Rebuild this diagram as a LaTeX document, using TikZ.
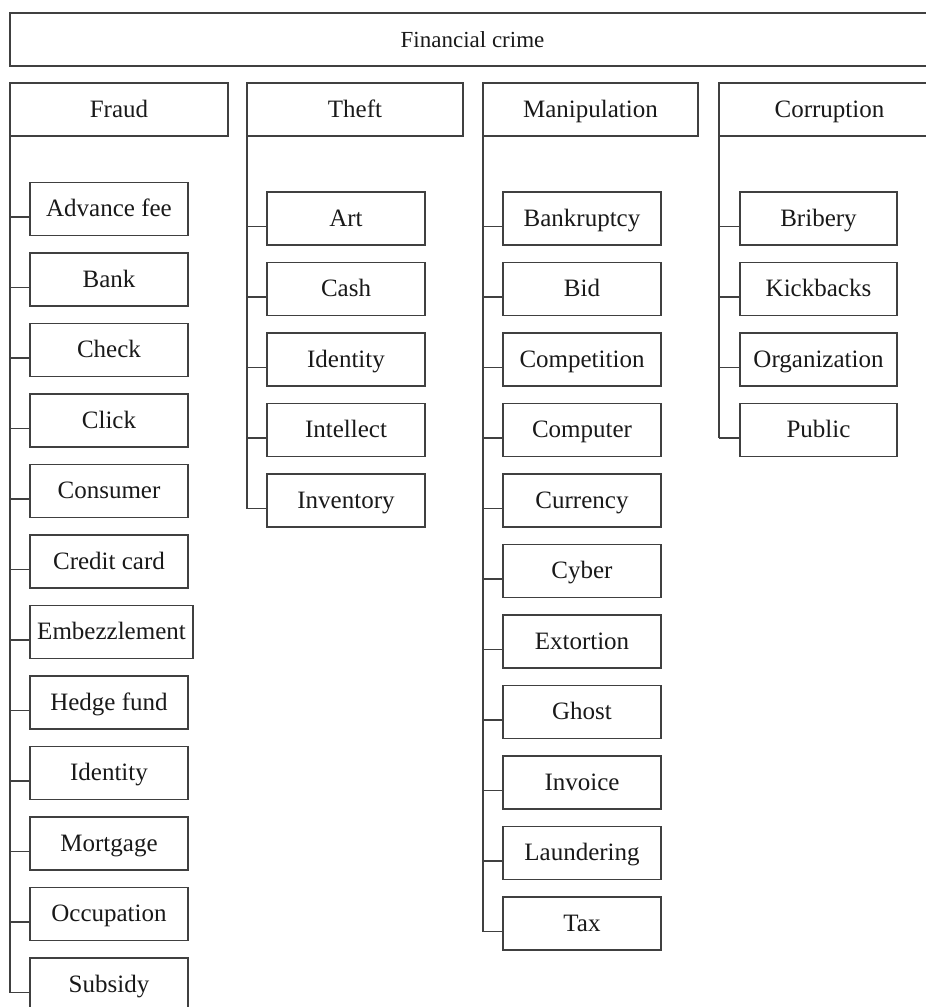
\documentclass[tikz,border=0pt]{standalone}
\usepackage{fontspec}
\setmainfont{Liberation Serif}
\usetikzlibrary{positioning}

\tikzset{
  box/.style={draw=black!75, line width=1.5pt, minimum height=53pt, inner sep=0pt,
    outer sep=0pt, text=black!90, text height=18pt, text depth=3pt,
    font=\fontsize{25}{30}\selectfont},
  catbox/.style={box, minimum width=218pt},
  itembox/.style={box, minimum width=158pt},
  tree/.style={draw=black!75, line width=1.5pt},
}

\begin{document}
\begin{tikzpicture}[x=1pt,y=-1pt]
    \useasboundingbox (0,0) rectangle (926,1007);
    \clip (0,0) rectangle (926,1007);
      % top
      \node[box,minimum width=925pt,font=\fontsize{23}{28}\selectfont] (FC) at (472.5,39.5) {Financial crime};
      \node[catbox] (Fraud) at (119,109.5) {Fraud};
      \node[catbox,minimum width=216pt] (Theft) at (355,109.5) {Theft};
      \node[catbox,minimum width=215pt] (Manip) at (590.5,109.5) {Manipulation};
      \node[catbox,minimum width=221pt] (Corr) at (829.5,109.5) {Corruption};
      % Fraud
      \node[itembox] (F1) at (109,209) {Advance fee};
      \node[itembox,below=17.5pt of F1] (F2) {Bank};
      \node[itembox,below=17.5pt of F2] (F3) {Check};
      \node[itembox,below=17.5pt of F3] (F4) {Click};
      \node[itembox,below=17.5pt of F4] (F5) {Consumer};
      \node[itembox,below=17.5pt of F5] (F6) {Credit card};
      \node[itembox,minimum width=163pt,below=17.5pt of F6,xshift=2.5pt] (F7) {Embezzlement};
      \node[itembox,below=17.5pt of F7,xshift=-2.5pt] (F8) {Hedge fund};
      \node[itembox,below=17.5pt of F8] (F9) {Identity};
      \node[itembox,below=17.5pt of F9] (F10) {Mortgage};
      \node[itembox,below=17.5pt of F10] (F11) {Occupation};
      \node[itembox,below=17.5pt of F11] (F12) {Subsidy};
      % Theft
      \node[itembox] (T1) at (346,218.5) {Art};
      \node[itembox,below=17.5pt of T1] (T2) {Cash};
      \node[itembox,below=17.5pt of T2] (T3) {Identity};
      \node[itembox,below=17.5pt of T3] (T4) {Intellect};
      \node[itembox,below=17.5pt of T4] (T5) {Inventory};
      % Manipulation
      \node[itembox] (M1) at (582,218.5) {Bankruptcy};
      \node[itembox,below=17.5pt of M1] (M2) {Bid};
      \node[itembox,below=17.5pt of M2] (M3) {Competition};
      \node[itembox,below=17.5pt of M3] (M4) {Computer};
      \node[itembox,below=17.5pt of M4] (M5) {Currency};
      \node[itembox,below=17.5pt of M5] (M6) {Cyber};
      \node[itembox,below=17.5pt of M6] (M7) {Extortion};
      \node[itembox,below=17.5pt of M7] (M8) {Ghost};
      \node[itembox,below=17.5pt of M8] (M9) {Invoice};
      \node[itembox,below=17.5pt of M9] (M10) {Laundering};
      \node[itembox,below=17.5pt of M10] (M11) {Tax};
      % Corruption
      \node[itembox,minimum width=157pt] (C1) at (818.5,218.5) {Bribery};
      \node[itembox,minimum width=157pt,below=17.5pt of C1] (C2) {Kickbacks};
      \node[itembox,minimum width=157pt,below=17.5pt of C2] (C3) {Organization};
      \node[itembox,minimum width=157pt,below=17.5pt of C3] (C4) {Public};
      % Lines
      \foreach \cat/\it/\n in {Fraud/F/12,Theft/T/5,Manip/M/11,Corr/C/4}{
        \foreach \i in {1,...,\n}{
          \coordinate (\it t\i) at ([yshift=-8pt]\it\i.west);
          \draw[tree] (\it t\i -| \cat.west) -- (\it t\i);
        }
        \draw[tree] (\cat.west) -- (\it t\n -| \cat.west);
      }
    \end{tikzpicture}
\end{document}
